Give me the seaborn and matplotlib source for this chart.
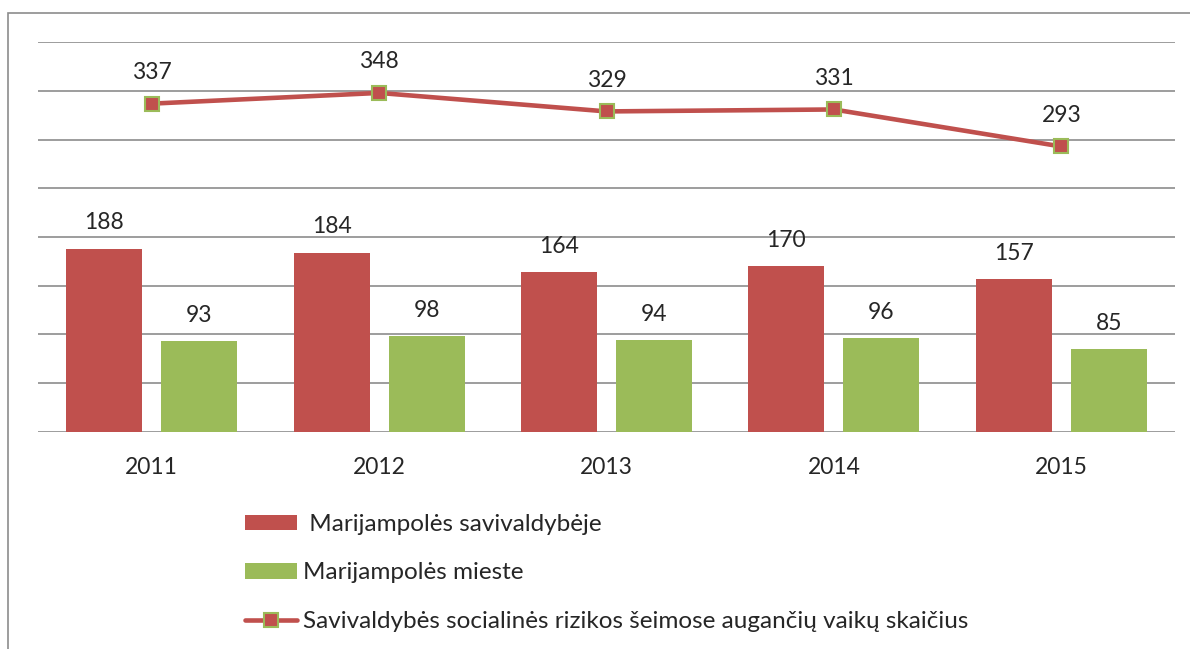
"""Marijampolė social risk families chart."""

import matplotlib
matplotlib.use('Agg')
import matplotlib.pyplot as plt
import numpy as np
import pandas as pd
import seaborn as sns
from matplotlib.lines import Line2D
from matplotlib.patches import Patch, Rectangle

years = ['2011', '2012', '2013', '2014', '2015']
savivaldybeje = [188, 184, 164, 170, 157]
mieste = [93, 98, 94, 96, 85]
vaikai = [337, 348, 329, 331, 293]

series_names = ['Marijampolės savivaldybėje', 'Marijampolės mieste',
                'Savivaldybės socialinės rizikos šeimose augančių vaikų skaičius']

RED = '#C0504D'
GREEN = '#9BBB59'

sns.set_theme(style='white')
plt.rcParams['font.family'] = ['Lato', 'DejaVu Sans']

df = pd.DataFrame({
    'year': years * 2,
    'value': savivaldybeje + mieste,
    'series': [series_names[0]] * 5 + [series_names[1]] * 5,
})

fig = plt.figure(figsize=(11.9, 6.49), dpi=100)
fig.patches.append(Rectangle((8 / 1190, -0.1), 1.2, 1 - 13 / 649 + 0.1,
                             transform=fig.transFigure, fill=False,
                             edgecolor='#8c8c8c', lw=1.2))
ax = fig.add_axes([38 / 1190, 1 - 431.7 / 649, 1137 / 1190, 389.4 / 649])

sns.barplot(data=df, x='year', y='value', hue='series', order=years,
            palette=[RED, GREEN], width=0.836, gap=0.2, ax=ax,
            legend=False, saturation=1, edgecolor='none')

x_pos = np.arange(len(years))
sns.lineplot(x=x_pos, y=vaikai, ax=ax, color=RED, lw=3.3, marker='s',
             markersize=10.5, markerfacecolor=RED, markeredgecolor=GREEN,
             markeredgewidth=1.5, zorder=5)

ax.set_ylim(0, 400)
ax.set_xlim(-0.5, 4.5)
ax.set_yticks(np.arange(0, 401, 50))
ax.set_yticklabels([])
ax.yaxis.grid(True, color='#8c8c8c', lw=1.2)
ax.set_axisbelow(True)
for s in ax.spines.values():
    s.set_visible(False)
ax.tick_params(axis='x', length=0, pad=18, labelsize=16.5)
ax.tick_params(axis='y', length=0)
ax.set_xlabel('')
ax.set_ylabel('')

for cont in ax.containers:
    ax.bar_label(cont, padding=11, fontsize=16.5)

for x, v in zip(x_pos, vaikai):
    ax.annotate(str(v), (x, v), xytext=(0, 15), textcoords='offset points',
                ha='center', va='bottom', fontsize=16.5)

handles = [
    Patch(facecolor=RED, edgecolor='none'),
    Patch(facecolor=GREEN, edgecolor='none'),
    Line2D([], [], color=RED, lw=3.3, marker='s', markersize=10.5,
           markerfacecolor=RED, markeredgecolor=GREEN, markeredgewidth=1.5),
]
labels = [' ' + series_names[0], series_names[1], series_names[2]]
fig.legend(handles, labels, loc='upper left',
           bbox_to_anchor=(245 / 1190, 1 - 514 / 649), frameon=False,
           fontsize=17.5, handlelength=2.15, handleheight=0.6,
           labelspacing=1.13, handletextpad=0.25, borderaxespad=0,
           borderpad=0)

fig.savefig('out.png', dpi=100)
